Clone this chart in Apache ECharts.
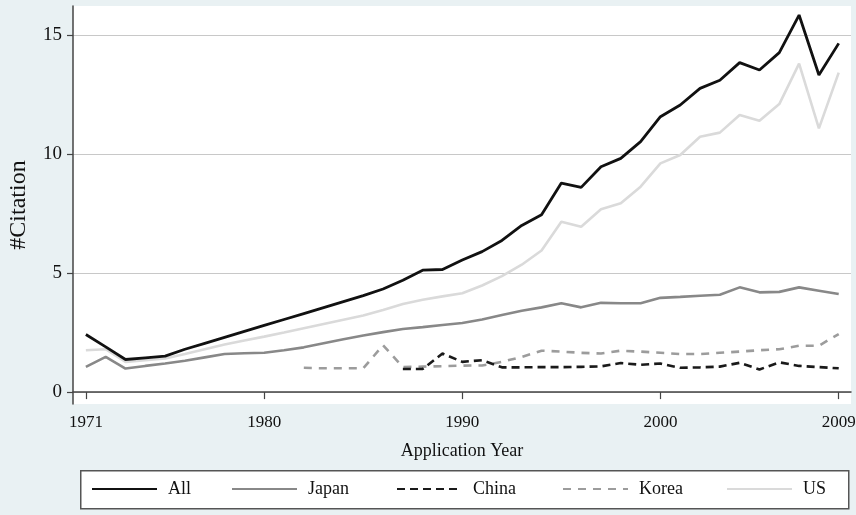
<!DOCTYPE html>
<html>
<head>
<meta charset="utf-8">
<script src="https://cdn.jsdelivr.net/npm/echarts@6/dist/echarts.min.js"></script>
<style>html,body{margin:0;padding:0;background:#e9f1f3;}#c{width:856px;height:515px;}</style>
</head>
<body>
<div id="c"></div>
<script>
const years = [];
for (let y = 1971; y <= 2009; y++) years.push(y);
const xTicks = [1971, 1980, 1990, 2000, 2009];
const yTicks = [0, 5, 10, 15];
const seriesNames = ['All', 'Japan', 'China', 'Korea', 'US'];
const allVals = [2.42,1.9,1.37,1.44,1.51,1.8,2.05,2.3,2.55,2.8,3.05,3.3,3.55,3.8,4.05,4.33,4.7,5.12,5.15,5.55,5.9,6.37,7.0,7.45,8.78,8.6,9.47,9.82,10.52,11.57,12.06,12.76,13.1,13.84,13.53,14.26,15.84,13.32,14.65];
const japanVals = [1.06,1.48,0.99,1.1,1.2,1.32,1.46,1.6,1.63,1.65,1.76,1.88,2.05,2.22,2.38,2.52,2.65,2.73,2.82,2.9,3.05,3.24,3.42,3.56,3.73,3.56,3.75,3.73,3.73,3.96,4.0,4.05,4.09,4.4,4.19,4.21,4.4,4.26,4.12];
const chinaVals = [null,null,null,null,null,null,null,null,null,null,null,null,null,null,null,null,0.97,0.97,1.62,1.27,1.34,1.04,1.04,1.05,1.05,1.06,1.08,1.22,1.15,1.2,1.02,1.04,1.07,1.23,0.95,1.25,1.1,1.05,1.0];
const koreaVals = [null,null,null,null,null,null,null,null,null,null,null,1.02,1.0,1.0,1.0,1.97,1.05,1.07,1.09,1.11,1.12,1.27,1.48,1.74,1.7,1.65,1.62,1.74,1.7,1.65,1.6,1.6,1.65,1.7,1.76,1.8,1.95,1.95,2.44];
const usVals = [1.76,1.8,1.27,1.34,1.41,1.6,1.8,2.0,2.17,2.33,2.5,2.68,2.86,3.04,3.22,3.45,3.7,3.88,4.02,4.15,4.48,4.87,5.35,5.95,7.16,6.95,7.68,7.93,8.63,9.61,9.96,10.73,10.9,11.64,11.4,12.1,13.8,11.08,13.42];

const valsList = [allVals, japanVals, chinaVals, koreaVals, usVals];
const colors = ['#111111', '#888888', '#1a1a1a', '#9c9c9c', '#dadada'];
const types = ['solid', 'solid', [8, 5], [8, 7], 'solid'];
const widths = [2.8, 2.6, 2.6, 2.6, 2.6];
const FONT = '"Liberation Serif", "DejaVu Serif", serif';

function pairs(vals) {
  return years.map((y, i) => [y, vals[i]]).filter(p => p[1] !== null);
}

const series = seriesNames.map((name, i) => ({
  name: name,
  type: 'line',
  data: pairs(valsList[i]),
  showSymbol: false,
  symbol: 'none',
  lineStyle: { color: colors[i], width: widths[i], type: types[i] },
  itemStyle: { color: colors[i] },
  z: i === 4 ? 1 : 5 - i + 2,
  animation: false
}));

const legendLefts = [91, 231, 396, 562, 726];
const legends = seriesNames.map((name, i) => ({
  data: [name],
  left: legendLefts[i],
  top: 480,
  itemWidth: 65,
  itemHeight: 18,
  padding: 0,
  selectedMode: false,
  itemStyle: { opacity: 0 },
  textStyle: { fontFamily: FONT, fontSize: 18, color: '#111', padding: [0, 0, 0, 6] }
}));

const chart = echarts.init(document.getElementById('c'), null, { renderer: 'canvas' });
chart.setOption({
  backgroundColor: '#e9f1f3',
  animation: false,
  grid: { left: 73, right: 5, top: 6, bottom: 111, show: true, backgroundColor: '#ffffff', borderWidth: 0, containLabel: false, outerBoundsMode: 'none' },
  graphic: [{
    type: 'rect', left: 80, top: 470, z: -1,
    shape: { width: 768, height: 38 },
    style: { fill: '#ffffff', stroke: '#555555', lineWidth: 1.5 }
  }],
  legend: legends,
  xAxis: {
    type: 'value', min: 1970.35, max: 2009.62,
    name: 'Application Year', nameLocation: 'middle', nameGap: 38,
    nameTextStyle: { fontFamily: FONT, fontSize: 18, color: '#111' },
    axisLine: { show: true, lineStyle: { color: '#444', width: 1.5 } },
    axisTick: { show: true, customValues: xTicks, length: 7, lineStyle: { color: '#444', width: 1.2 } },
    axisLabel: { customValues: xTicks, fontFamily: FONT, fontSize: 17, color: '#111', margin: 10, formatter: v => String(v) },
    splitLine: { show: false }
  },
  yAxis: {
    type: 'value', min: -0.5, max: 16.22,
    name: '#Citation', nameLocation: 'middle', nameGap: 42, nameRotate: 90,
    nameTextStyle: { fontFamily: FONT, fontSize: 24, color: '#111' },
    axisLine: { show: true, lineStyle: { color: '#444', width: 1.5 } },
    axisTick: { show: true, customValues: yTicks, length: 6, lineStyle: { color: '#444', width: 1.2 } },
    axisLabel: { customValues: yTicks, fontFamily: FONT, fontSize: 19, color: '#111', margin: 11 },
    splitLine: { show: true, lineStyle: { color: '#c8c8c8', width: 1 } }
  },
  series: series
});
</script>
</body>
</html>
